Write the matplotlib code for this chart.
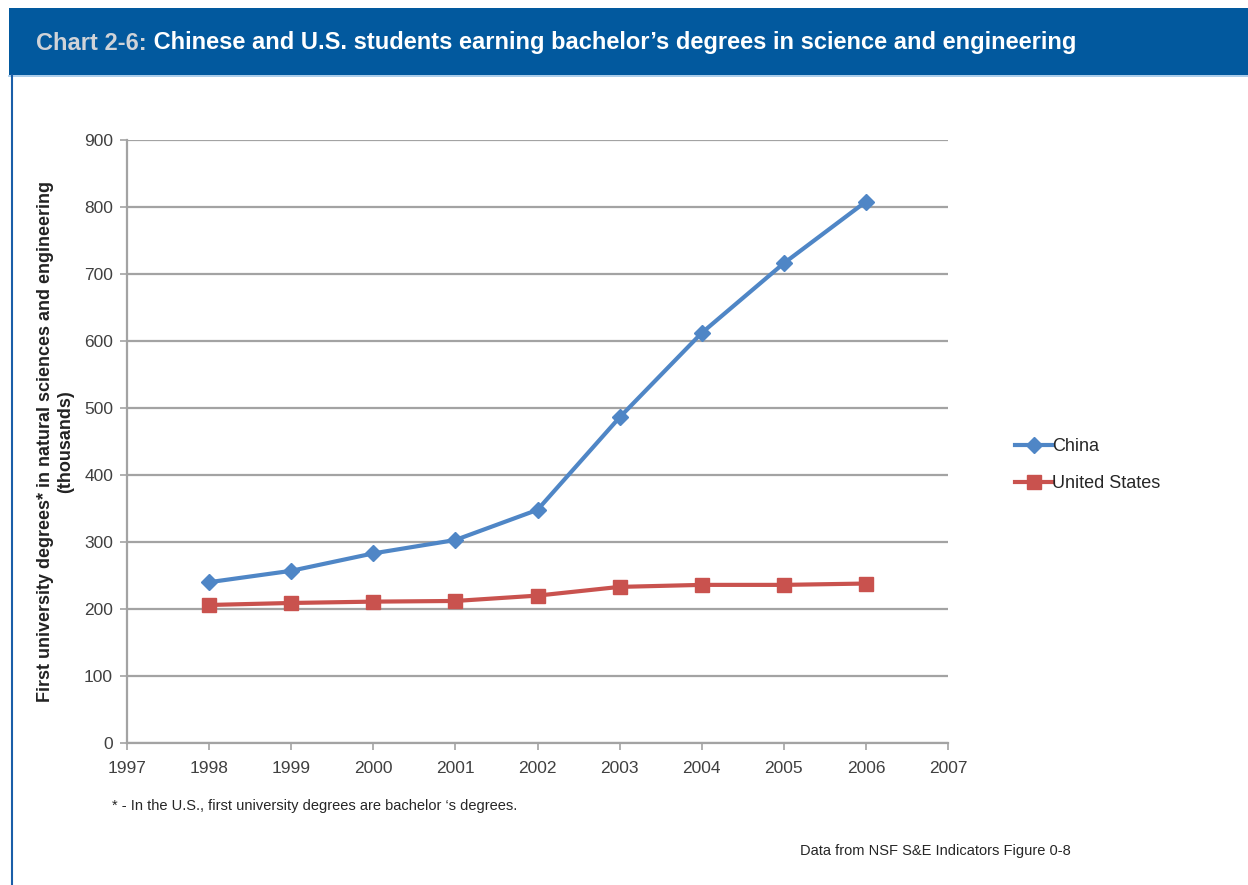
import matplotlib
matplotlib.use("Agg")
import matplotlib.pyplot as plt
from matplotlib.patches import Rectangle
from matplotlib.lines import Line2D

years = [1998, 1999, 2000, 2001, 2002, 2003, 2004, 2005, 2006]
china = [240, 257, 283, 303, 348, 486, 612, 716, 808]
united_states = [206, 209, 211, 212, 220, 233, 236, 236, 238]
x_ticks = list(range(1997, 2008))
y_ticks = list(range(0, 1000, 100))

title_prefix = "Chart 2-6:"
title_rest = " Chinese and U.S. students earning bachelor\u2019s degrees in science and engineering"
ylabel = "First university degrees* in natural sciences and engineering\n(thousands)"
footnote = "* - In the U.S., first university degrees are bachelor \u2018s degrees."
source = "Data from NSF S&E Indicators Figure 0-8"

plt.rcParams['font.family'] = ['Liberation Sans', 'DejaVu Sans']

W, H = 1248, 885
fig = plt.figure(figsize=(W / 100, H / 100), dpi=100)
fig.patch.set_facecolor("white")

# header band
fig.patches.append(Rectangle((9 / W, 1 - 75 / H), 1 - 9 / W, 67 / H,
                             transform=fig.transFigure, facecolor="#02599e",
                             edgecolor="none", zorder=0))
fig.add_artist(Line2D([9 / W, 1], [1 - 75.5 / H, 1 - 75.5 / H], transform=fig.transFigure,
                      color="#9cc3e6", lw=1.2))
# left border line
fig.add_artist(Line2D([11.5 / W, 11.5 / W], [0, 1 - 75 / H], transform=fig.transFigure,
                      color="#1a5ea8", lw=1.5))

t1 = fig.text(36 / W, 1 - 43 / H, title_prefix, color="#cfd3d8", fontsize=17,
              fontweight="bold", va="center", ha="left")
fig.canvas.draw()
bb = t1.get_window_extent()
fig.text(bb.x1 / W, 1 - 43 / H, title_rest, color="white", fontsize=17,
         fontweight="bold", va="center", ha="left")

ax = fig.add_axes([127 / W, 1 - 743 / H, (948 - 127) / W, (743 - 140) / H])
grid_c = "#a3a3a3"
ax.set_xlim(1997, 2007)
ax.set_ylim(0, 900)
ax.set_xticks(x_ticks)
ax.set_yticks(y_ticks)
ax.yaxis.grid(True, color=grid_c, lw=1.6)
ax.set_axisbelow(True)
for s in ["top", "right"]:
    ax.spines[s].set_visible(False)
for s in ["left", "bottom"]:
    ax.spines[s].set_color(grid_c)
    ax.spines[s].set_linewidth(1.6)
ax.tick_params(axis="both", colors=grid_c, labelcolor="#404040", labelsize=12.5,
               length=5, width=1.2, direction="out")
ax.tick_params(axis="x", pad=8)
ax.tick_params(axis="y", pad=5)

ax.plot(years, china, color="#4f86c6", lw=3, marker="D", markersize=8.5,
        label="China", clip_on=False, zorder=3)
ax.plot(years, united_states, color="#c9524e", lw=3, marker="s", markersize=10.5,
        label="United States", clip_on=False, zorder=3)

ax.set_ylabel(ylabel, fontsize=13, fontweight="bold", color="#222222",
              linespacing=1.3)
ax.yaxis.set_label_coords(-0.064, 0.5)

leg = ax.legend(loc="center left", bbox_to_anchor=((1008 - 127) / (948 - 127), (743 - 465) / (743 - 140)),
                frameon=False, fontsize=13, handlelength=2.1, handletextpad=-0.05,
                labelspacing=1.1, borderaxespad=0)
for txt in leg.get_texts():
    txt.set_color("#262626")

fig.text(112 / W, 1 - 806 / H, footnote, fontsize=10.5, color="#262626", va="center", ha="left")
fig.text(800 / W, 1 - 851 / H, source, fontsize=10.5, color="#262626", va="center", ha="left")

fig.savefig("out.png", dpi=100, facecolor="white")
